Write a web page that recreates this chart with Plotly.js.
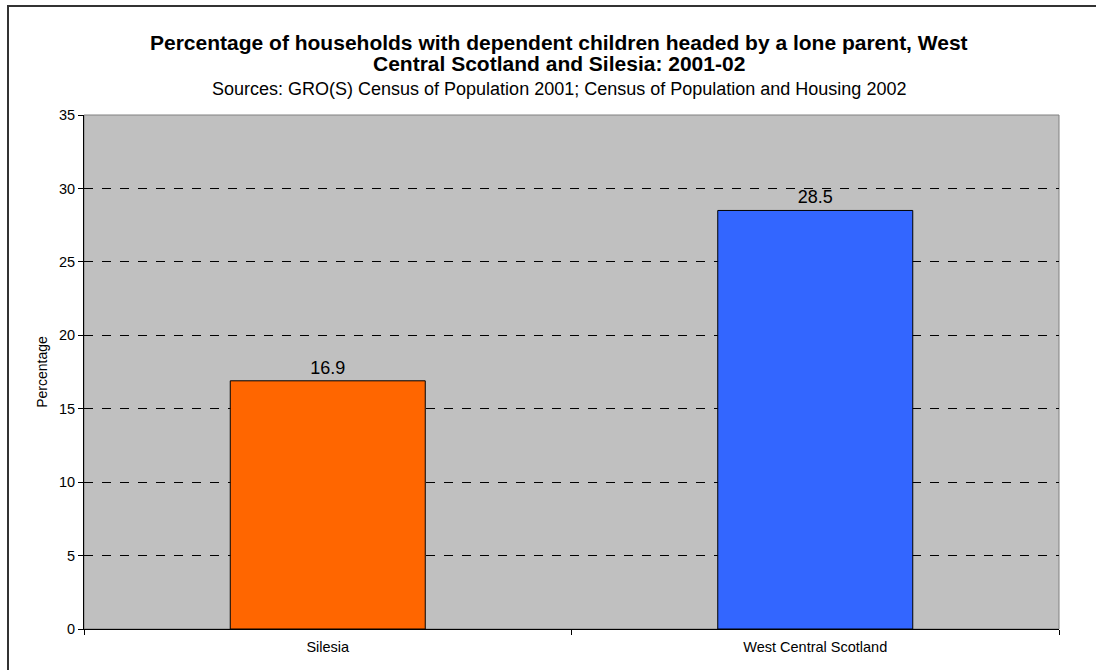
<!DOCTYPE html>
<html>
<head>
<meta charset="utf-8">
<script src="https://cdn.plot.ly/plotly-3.0.1.min.js"></script>
<style>
html,body{margin:0;padding:0;background:#fff;}
#wrap{position:relative;width:1096px;height:670px;overflow:hidden;}
#chart{position:absolute;left:0;top:0;width:1096px;height:670px;}
#frame{position:absolute;left:7px;top:5px;width:1200px;height:800px;border:2px solid #333;pointer-events:none;}
</style>
</head>
<body>
<div id="wrap"><div id="chart"></div><div id="frame"></div></div>
<script>
var categories = ["Silesia", "West Central Scotland"];
var values = [16.9, 28.5];
var barColors = ["#FF6600", "#3366FF"];
var yTicks = [0, 5, 10, 15, 20, 25, 30, 35];
var titleLines = ["Percentage of households with dependent children headed by a lone parent, West",
                  "Central Scotland and Silesia: 2001-02"];
var subtitle = "Sources: GRO(S) Census of Population 2001; Census of Population and Housing 2002";

var FONT = "Liberation Sans, Arial, sans-serif";
var plotTop = 115, plotBottom = 629, plotLeft = 84, plotRight = 1059;
function pyToPaper(py){ return (plotBottom - py) / (plotBottom - plotTop); }
function pxToPaper(px){ return (px - plotLeft) / (plotRight - plotLeft); }

var trace = {
  type: "bar",
  x: categories,
  y: values,
  width: 0.4,
  marker: {color: barColors, line: {color: "#000", width: 1}},
  text: values.map(function(v){return v.toFixed(1);}),
  textposition: "outside",
  cliponaxis: false,
  textfont: {family: FONT, size: 18, color: "#000"},
  hoverinfo: "skip"
};

var annotations = [
  {text: "<b>" + titleLines[0] + "</b>", y: pyToPaper(42), size: 21},
  {text: "<b>" + titleLines[1] + "</b>", y: pyToPaper(64), size: 21},
  {text: subtitle, y: pyToPaper(89), size: 18}
].map(function(a){
  return {text: a.text, xref: "paper", yref: "paper", x: pxToPaper(559), y: a.y, showarrow: false,
          xanchor: "center", yanchor: "middle", font: {family: FONT, size: a.size, color: "#000"}};
});

var layout = {
  width: 1096, height: 670,
  margin: {l: 84, r: 37, t: 115, b: 41},
  paper_bgcolor: "rgba(0,0,0,0)",
  plot_bgcolor: "#C0C0C0",
  showlegend: false,
  font: {family: FONT, color: "#000"},
  annotations: annotations,
  xaxis: {
    type: "category",
    showgrid: false,
    showline: true, linecolor: "#000", linewidth: 1,
    ticks: "outside", tickson: "boundaries", ticklen: 5, tickcolor: "#000",
    tickfont: {size: 14.5, color: "#000"},
    ticklabelstandoff: 5,
    fixedrange: true
  },
  yaxis: {
    range: [0, 35],
    tickvals: yTicks,
    showgrid: true, gridcolor: "#000", griddash: "dash", gridwidth: 1,
    showline: true, linecolor: "#000", linewidth: 1,
    ticks: "outside", ticklen: 5, tickcolor: "#000",
    tickfont: {size: 14.5, color: "#000"},
    zeroline: false,
    title: {text: "Percentage", font: {size: 14, color: "#000"}, standoff: 8},
    fixedrange: true
  },
  shapes: [{
    type: "rect", xref: "paper", yref: "paper", x0: 0, x1: 1, y0: 0, y1: 1,
    line: {color: "#808080", width: 1}, layer: "below"
  }],
  bargap: 0.6
};

Plotly.newPlot("chart", [trace], layout, {displayModeBar: false, staticPlot: true});
</script>
</body>
</html>
